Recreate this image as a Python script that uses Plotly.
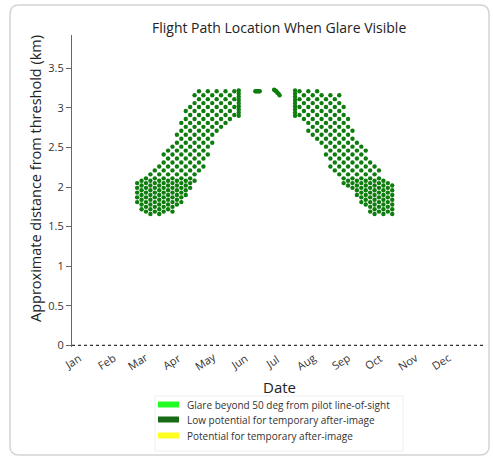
import plotly.graph_objects as go
import pandas as pd

YEAR_START = pd.Timestamp("2021-01-01")
MONTH_LABELS = ["Jan", "Feb", "Mar", "Apr", "May", "Jun",
                "Jul", "Aug", "Sep", "Oct", "Nov", "Dec"]
Y_TICKS = [0, 0.5, 1, 1.5, 2, 2.5, 3, 3.5]
Y_TICK_TEXT = ["0", "0.5", "1", "1.5", "2", "2.5", "3", "3.5"]

# Low potential for temporary after-image: spring band (day of year, lower/upper km)
spring_days = [59, 63, 67, 71, 75, 79, 83, 87, 91, 95, 99, 103, 107, 111,
               115, 119, 123, 127, 131, 135, 139, 143, 147]
spring_low = [1.80, 1.71, 1.64, 1.63, 1.64, 1.65, 1.66, 1.67, 1.69, 1.73, 1.79, 1.86,
              1.94, 2.03, 2.12, 2.22, 2.35, 2.52, 2.62, 2.72, 2.80, 2.83, 2.86]
spring_high = [2.08, 2.11, 2.17, 2.23, 2.29, 2.35, 2.42, 2.48, 2.59, 2.72, 2.85, 2.96,
               3.06, 3.17, 3.22, 3.22, 3.22, 3.22, 3.22, 3.22, 3.22, 3.22, 3.22]

# summer/autumn band
autumn_days = [206, 210, 214, 218, 222, 226, 230, 234, 238, 242, 246, 250, 254,
               258, 262, 266, 270, 274, 278, 282, 286, 290]
autumn_low = [2.88, 2.78, 2.68, 2.60, 2.54, 2.47, 2.36, 2.25, 2.17, 2.10, 2.04, 1.99,
              1.94, 1.88, 1.81, 1.74, 1.69, 1.66, 1.65, 1.65, 1.65, 1.65]
autumn_high = [3.22, 3.22, 3.22, 3.22, 3.22, 3.21, 3.20, 3.19, 3.18, 3.16, 3.03, 2.89,
               2.76, 2.65, 2.59, 2.54, 2.40, 2.31, 2.22, 2.13, 2.08, 2.03]

# rows of dots observed in the picture (alternating columns are staggered)
ROWS_A = [1.63, 1.69, 1.75, 1.81, 1.87, 1.93, 1.99, 2.05,
          2.11, 2.21, 2.31, 2.41, 2.51, 2.61, 2.71, 2.81, 2.91, 3.01, 3.11, 3.21]
ROWS_B = [1.66, 1.72, 1.78, 1.84, 1.90, 1.96, 2.02,
          2.08, 2.16, 2.26, 2.36, 2.46, 2.56, 2.66, 2.76, 2.86, 2.96, 3.06, 3.16]

# solid columns at the band ends
solid_days = [151, 202]
solid_rows = [2.90, 2.94, 2.98, 3.02, 3.06, 3.10, 3.14, 3.18, 3.22]

# short dashes near the solstice
dash_days = [166, 167, 168, 169, 170, 183, 184, 185, 186, 187, 188]
dash_km = [3.21, 3.21, 3.21, 3.21, 3.21, 3.23, 3.22, 3.21, 3.19, 3.18, 3.16]

# other categories (no points visible)
beyond50_days, beyond50_km = [], []
potential_days, potential_km = [], []

# no-glare baseline extent
baseline_days = [0, 374]
baseline_km = [0, 0]


def to_date(days):
    return [YEAR_START + pd.Timedelta(days=d) for d in days]


low_x, low_y = [], []
for bands in ((spring_days, spring_low, spring_high), (autumn_days, autumn_low, autumn_high)):
    for i, (d, lo, hi) in enumerate(zip(*bands)):
        rows = ROWS_A if i % 2 == 0 else ROWS_B
        for r in rows:
            if lo - 0.005 <= r <= hi + 0.005:
                low_x.append(d)
                low_y.append(r)
for d in solid_days:
    for r in solid_rows:
        low_x.append(d)
        low_y.append(r)
low_x += dash_days
low_y += dash_km

W, H = 493, 460
L, R, T, B = 72, 485, 35, 347


def px(x):
    return (x - L) / (R - L)


def py(y):
    return (B - y) / (B - T)


DOT = "#0e7d0e"

fig = go.Figure()
fig.add_trace(go.Scatter(x=to_date(baseline_days), y=baseline_km, mode="lines",
                         line=dict(color="#333333", width=1.3, dash="dot"),
                         showlegend=False, hoverinfo="skip"))
fig.add_trace(go.Scatter(x=to_date(beyond50_days), y=beyond50_km, mode="markers",
                         marker=dict(color="#00ff00", size=4.5), showlegend=False))
fig.add_trace(go.Scatter(x=to_date(low_x), y=low_y, mode="markers",
                         marker=dict(color=DOT, size=4.4, line=dict(width=0)),
                         showlegend=False))
fig.add_trace(go.Scatter(x=to_date(potential_days), y=potential_km, mode="markers",
                         marker=dict(color="#ffff00", size=4.5), showlegend=False))

FONT = "Open Sans"
ann = []
ann.append(dict(text="Flight Path Location When Glare Visible", x=0.5, y=py(27),
                xref="paper", yref="paper", showarrow=False,
                xanchor="center", yanchor="middle",
                font=dict(family=FONT, size=14, color="#222")))
ann.append(dict(text="Approximate distance from threshold (km)", x=px(35), y=py(179),
                xref="paper", yref="paper", showarrow=False, textangle=-90,
                xanchor="center", yanchor="middle",
                font=dict(family=FONT, size=14.5, color="#222")))
ann.append(dict(text="Date", x=px(279), y=py(387), xref="paper", yref="paper",
                xanchor="center", yanchor="middle",
                showarrow=False, font=dict(family=FONT, size=15, color="#222")))
for m, lab in enumerate(MONTH_LABELS):
    ann.append(dict(text=lab, x=YEAR_START + pd.DateOffset(months=m), xref="x",
                    y=py(361), yref="paper", showarrow=False, textangle=-33,
                    xanchor="center", yanchor="middle",
                    font=dict(family=FONT, size=11, color="#333")))

legend_items = [("Glare beyond 50 deg from pilot line-of-sight", "#22ff22", 404.5),
                ("Low potential for temporary after-image", "#176b17", 419.5),
                ("Potential for temporary after-image", "#ffff22", 435.5)]
shapes = []
shapes.append(dict(type="rect", xref="paper", yref="paper", x0=px(155), x1=px(403),
                   y0=py(396), y1=py(451), line=dict(color="#efefef", width=1),
                   fillcolor="rgba(0,0,0,0)", layer="below"))
for txt, col, yc in legend_items:
    shapes.append(dict(type="rect", xref="paper", yref="paper", x0=px(158), x1=px(179),
                       y0=py(yc - 3), y1=py(yc + 3), line=dict(width=0), fillcolor=col))
    ann.append(dict(text=txt, x=px(185), y=py(yc), xref="paper", yref="paper",
                    xanchor="left", yanchor="middle", showarrow=False,
                    font=dict(family=FONT, size=10, color="#333")))

fx0, fx1, fy0, fy1, rr = 10, 489, 5, 455, 9
path = (f"M {px(fx0 + rr)},{py(fy0)} L {px(fx1 - rr)},{py(fy0)} "
        f"Q {px(fx1)},{py(fy0)} {px(fx1)},{py(fy0 + rr)} "
        f"L {px(fx1)},{py(fy1 - rr)} Q {px(fx1)},{py(fy1)} {px(fx1 - rr)},{py(fy1)} "
        f"L {px(fx0 + rr)},{py(fy1)} Q {px(fx0)},{py(fy1)} {px(fx0)},{py(fy1 - rr)} "
        f"L {px(fx0)},{py(fy0 + rr)} Q {px(fx0)},{py(fy0)} {px(fx0 + rr)},{py(fy0)} Z")
shapes.append(dict(type="path", path=path, xref="paper", yref="paper",
                   line=dict(color="#d4d4d4", width=1.5), layer="below"))

fig.update_layout(
    width=W, height=H,
    margin=dict(l=L, r=W - R, t=T, b=H - B, pad=0),
    paper_bgcolor="white", plot_bgcolor="white",
    showlegend=False,
    annotations=ann, shapes=shapes,
    xaxis=dict(type="date",
               range=[YEAR_START, YEAR_START + pd.Timedelta(days=374)],
               showticklabels=False, showgrid=False, zeroline=False,
               showline=False, ticks=""),
    yaxis=dict(range=[-0.02, 3.92], tickvals=Y_TICKS, ticktext=Y_TICK_TEXT,
               showgrid=False, zeroline=False, showline=True, linecolor="#666",
               linewidth=1, ticks="outside", ticklen=5, tickcolor="#666",
               tickfont=dict(family=FONT, size=11, color="#333")),
)

fig.write_html("out.html", config={"displayModeBar": False},
               post_script="document.body.style.margin='0';")
